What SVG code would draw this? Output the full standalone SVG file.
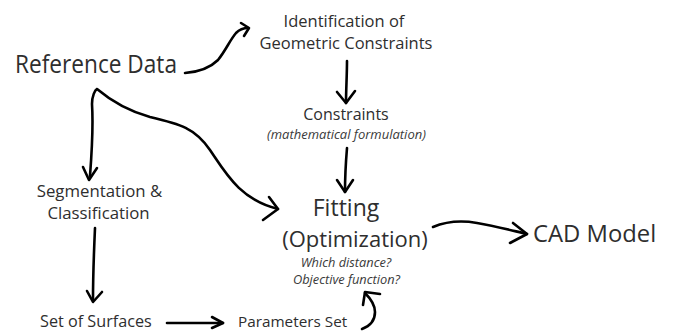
<svg xmlns="http://www.w3.org/2000/svg" width="673" height="331" viewBox="0 0 673 331">
<style>
text{font-family:"Open Sans","Noto Sans",sans-serif;fill:#2e2e2e}
.it{font-style:italic;fill:#3a3a3a}
.c path{fill:none;stroke:#000;stroke-width:2.6;stroke-linecap:round;stroke-linejoin:round}
</style>
<rect width="673" height="331" fill="#fff"/>
<g id="ref"><text x="15" y="73" font-size="25" textLength="162" lengthAdjust="spacingAndGlyphs">Reference Data</text></g>
<g id="ident">
<text x="344" y="27" font-size="16.5" text-anchor="middle">Identification of</text>
<text x="346" y="49" font-size="16.5" text-anchor="middle">Geometric Constraints</text>
</g>
<g id="constraints">
<text x="346" y="120" font-size="16" text-anchor="middle">Constraints</text>
<text class="it" x="346.5" y="138.5" font-size="13" text-anchor="middle">(mathematical formulation)</text>
</g>
<g id="fitting">
<text x="346" y="216" font-size="23" text-anchor="middle">Fitting</text>
<text x="355" y="247" font-size="22" text-anchor="middle">(Optimization)</text>
<text class="it" x="346" y="267" font-size="12.8" text-anchor="middle">Which distance?</text>
<text class="it" x="346.5" y="284" font-size="12.8" text-anchor="middle">Objective function?</text>
</g>
<g id="cad"><text x="533" y="242" font-size="23.8">CAD Model</text></g>
<g id="seg">
<text x="99.5" y="197" font-size="16.8" text-anchor="middle">Segmentation &amp;</text>
<text x="98.5" y="219" font-size="16.8" text-anchor="middle">Classification</text>
</g>
<g id="surfaces"><text x="40" y="327" font-size="16.2">Set of Surfaces</text></g>
<g id="params"><text x="238" y="327" font-size="15.3">Parameters Set</text></g>
<g class="c" id="connectors">
<path d="M185,73 C198,72 210,68 218,60 C226,50 230,40 236,33 C240,29 244,28 248,28"/>
<path d="M241,23 L249,28 L244,36"/>
<path d="M347,61 C347,75 346,90 346,103"/>
<path d="M337,92 L346,103 L355,91"/>
<path d="M347,148 C346,160 345,178 345,192"/>
<path d="M337,180 L345,192 L353,180"/>
<path d="M90,176 C92,150 93,120 92,104 C92,96 95,90 97,89 C110,100 125,110 150,117 C180,124 195,128 210,150 C225,172 240,200 278,209"/>
<path d="M83,167 L89,180 L97,168"/>
<path d="M269,197 L278,209 L263,220"/>
<path d="M95,228 C94,250 93,275 93,300"/>
<path d="M87,291 L93,302 L102,292"/>
<path d="M167,323 L223,323"/>
<path d="M212,317 L223,323 L212,328"/>
<path d="M362,329 C370,326 375,320 375,312 C375,304 370,298 365,293"/>
<path d="M363,305 L365,292 L380,294"/>
<path d="M433,227 C445,222 460,220 477,223 C495,226 510,230 527,234"/>
<path d="M513,223 L527,234 L510,243"/>
</g>
</svg>
